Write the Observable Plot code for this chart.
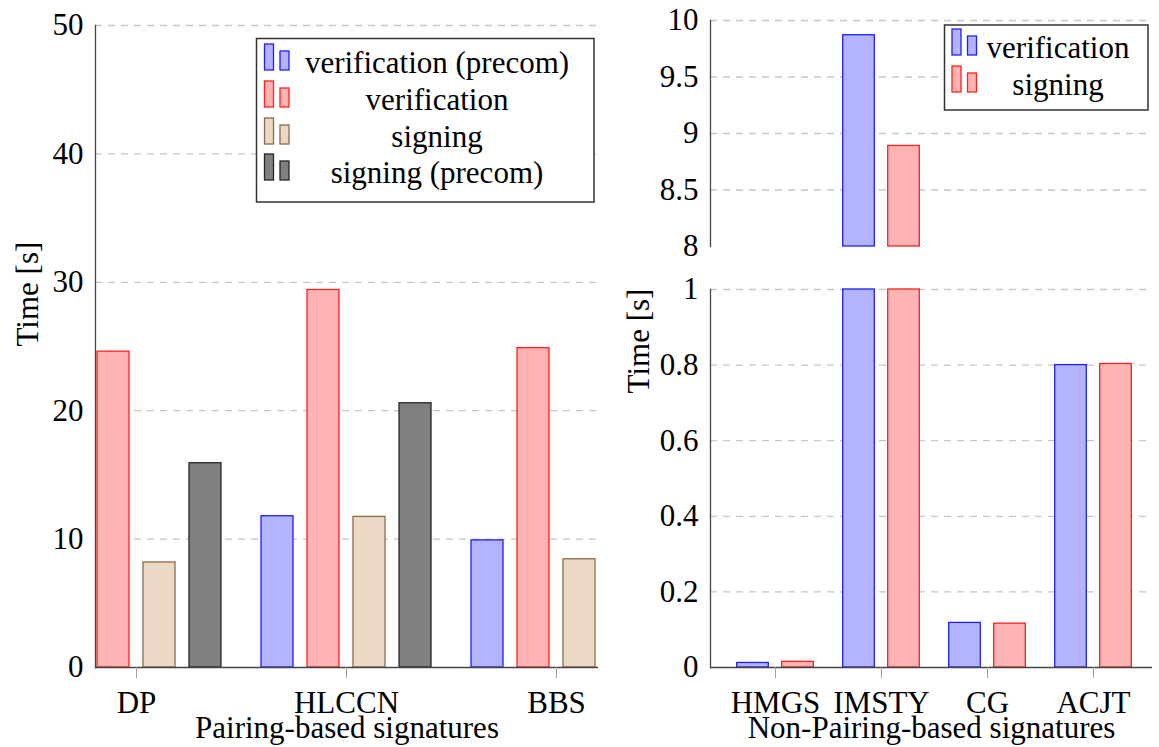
<!DOCTYPE html>
<html>
<head>
<meta charset="utf-8">
<script src="https://cdn.jsdelivr.net/npm/d3@7"></script>
<script src="https://cdn.jsdelivr.net/npm/@observablehq/plot@0.6"></script>
<style>
  html, body { margin: 0; padding: 0; background: #fff; }
  #wrap { position: relative; width: 1159px; height: 747px; overflow: hidden; font-family: 'Liberation Serif', 'DejaVu Serif', 'Noto Serif', 'Times New Roman', Times, serif; }
  #wrap > svg, #wrap > figure { position: absolute; margin: 0; }
  #wrap svg, #wrap svg text { font-family: 'Liberation Serif', 'DejaVu Serif', 'Noto Serif', 'Times New Roman', Times, serif !important; }
</style>
</head>
<body>
<div id="wrap"></div>
<script>
// ---------------- data ----------------
const pairingSchemes = ["DP", "HLCCN", "BBS"];
const pairingSeries = ["verification (precom)", "verification", "signing", "signing (precom)"];
const pairVerifPrecom = [null, 11.78, 9.9];
const pairVerif = [24.6, 29.4, 24.87];
const pairSign = [8.18, 11.73, 8.43];
const pairSignPrecom = [15.91, 20.58, null];

const nonPairingSchemes = ["HMGS", "IMSTY", "CG", "ACJT"];
const nonPairingSeries = ["verification", "signing"];
const npVerif = [0.012, 9.87, 0.118, 0.8];
const npSign = [0.015, 8.89, 0.116, 0.803];

const leftTicks = [0, 10, 20, 30, 40, 50];
const topTicks = [8, 8.5, 9, 9.5, 10];
const bottomTicks = [0, 0.2, 0.4, 0.6, 0.8, 1];

const leftXLabel = "Pairing-based signatures";
const rightXLabel = "Non-Pairing-based signatures";
const yLabel = "Time [s]";

// ---------------- styles ----------------
const FS = 31;
const seriesStyle = {
  "verification (precom)": {fill: "#b3b3ff", stroke: "#1f1fff"},
  "verification": {fill: "#ffb3b3", stroke: "#ff2020"},
  "signing": {fill: "#ebd9c5", stroke: "#8c6a47"},
  "signing (precom)": {fill: "#808080", stroke: "#262626"}
};
const npStyle = {
  "verification": {fill: "#b3b3ff", stroke: "#1f1fff"},
  "signing": {fill: "#ffb3b3", stroke: "#ff2020"}
};
const gridStyle = {stroke: "#c6c6c6", strokeOpacity: 1, strokeWidth: 1.3, strokeDasharray: "7,6"};
const axisLine = {stroke: "#444", strokeWidth: 1.3};
const plotStyle = {background: "transparent", overflow: "visible", fontSize: FS + "px", color: "black"};

const wrap = document.getElementById("wrap");
function place(el, left, top) { el.style.left = left + "px"; el.style.top = top + "px"; wrap.appendChild(el); }

// ---------------- left panel ----------------
const pairValues = [pairVerifPrecom, pairVerif, pairSign, pairSignPrecom];
const leftRows = pairingSeries.flatMap((s, j) =>
  pairingSchemes.map((c, i) => ({scheme: c, series: s, value: pairValues[j][i]})));
const leftOffsets = [-69, -23, 23, 69];

const left = Plot.plot({
  width: 610, height: 747,
  marginLeft: 95, marginRight: 12, marginTop: 25, marginBottom: 80,
  style: plotStyle,
  x: {domain: pairingSchemes, range: [31, 661], padding: 0, label: null},
  y: {domain: [0, 50], label: null},
  marks: [
    Plot.gridY(leftTicks.filter(d => d > 0), gridStyle),
    ...pairingSeries.map((s, j) => Plot.barY(
      leftRows.filter(r => r.series === s && r.value != null),
      {x: "scheme", y: "value", fill: seriesStyle[s].fill, stroke: seriesStyle[s].stroke,
       strokeWidth: 1.3, insetLeft: 89, insetRight: 89, dx: leftOffsets[j]})),
    Plot.ruleY([0], axisLine),
    Plot.frame({anchor: "left", ...axisLine}),
    Plot.axisY(leftTicks, {tickSize: 0, tickPadding: 12, fill: "black", label: null}),
    Plot.axisX({tickSize: 11, tickPadding: 12, stroke: "#a0a0a0", fill: "black", label: null}),
    Plot.text([leftXLabel], {text: d => d, frameAnchor: "bottom", dy: 70, fontSize: FS, fill: "black"}),
    Plot.text([yLabel], {text: d => d, frameAnchor: "left", dx: -67, rotate: -90, fontSize: FS, fill: "black"})
  ]
});
place(left, 0, 0);

// ---------------- right panel ----------------
const npValues = [npVerif, npSign];
const npRows = nonPairingSeries.flatMap((s, j) =>
  nonPairingSchemes.map((c, i) => ({scheme: c, series: s, value: npValues[j][i]})));
const npOffsets = [-22.5, 22.5];
const npXRange = [121.3, 546.9];

function npBars() {
  return nonPairingSeries.map((s, j) => Plot.barY(
    npRows.filter(r => r.series === s),
    {x: "scheme", y: "value", fill: npStyle[s].fill, stroke: npStyle[s].stroke,
     strokeWidth: 1.3, insetLeft: 37.2, insetRight: 37.2, dx: npOffsets[j]}));
}

const rightTop = Plot.plot({
  width: 559, height: 260,
  marginLeft: 110, marginRight: 7, marginTop: 20, marginBottom: 14,
  style: plotStyle,
  x: {domain: nonPairingSchemes, range: npXRange, padding: 0, axis: null, label: null},
  y: {domain: [8, 10], clamp: true, label: null},
  marks: [
    Plot.gridY(topTicks.filter(d => d > 8), gridStyle),
    ...npBars(),
    Plot.frame({anchor: "left", ...axisLine}),
    Plot.axisY(topTicks, {tickSize: 0, tickPadding: 12, fill: "black", label: null, tickFormat: d => String(d)})
  ]
});
place(rightTop, 600, 0);

const rightBottom = Plot.plot({
  width: 559, height: 487,
  marginLeft: 110, marginRight: 7, marginTop: 29, marginBottom: 80,
  style: plotStyle,
  x: {domain: nonPairingSchemes, range: npXRange, padding: 0, label: null},
  y: {domain: [0, 1], clamp: true, label: null},
  marks: [
    Plot.gridY(bottomTicks.filter(d => d > 0), gridStyle),
    ...npBars(),
    Plot.ruleY([0], axisLine),
    Plot.frame({anchor: "left", ...axisLine}),
    Plot.axisY(bottomTicks, {tickSize: 0, tickPadding: 12, fill: "black", label: null, tickFormat: d => String(d)}),
    Plot.axisX({tickSize: 11, tickPadding: 12, stroke: "#a0a0a0", fill: "black", label: null}),
    Plot.text([rightXLabel], {text: d => d, frameAnchor: "bottom", dy: 70, fontSize: FS, fill: "black"})
  ]
});
place(rightBottom, 600, 260);

// ---------------- legends & right y label (overlay) ----------------
const overlay = d3.create("svg")
  .attr("width", 1159).attr("height", 747)
  .style("pointer-events", "none")
  .style("font-size", FS + "px");

function legend(g, box, entries, styles, iconX, textX, baselines) {
  g.append("rect").attr("x", box.x).attr("y", box.y).attr("width", box.w).attr("height", box.h)
    .attr("fill", "white").attr("stroke", "#333").attr("stroke-width", 1.5);
  entries.forEach((name, i) => {
    const b = baselines[i];
    const st = styles[name];
    g.append("rect").attr("x", iconX).attr("y", b - 29).attr("width", 9).attr("height", 26)
      .attr("fill", st.fill).attr("stroke", st.stroke).attr("stroke-width", 1.3);
    g.append("rect").attr("x", iconX + 15.5).attr("y", b - 22).attr("width", 9).attr("height", 19)
      .attr("fill", st.fill).attr("stroke", st.stroke).attr("stroke-width", 1.3);
    g.append("text").attr("x", textX).attr("y", b).attr("text-anchor", "middle").attr("fill", "black").text(name);
  });
}

legend(overlay.append("g"), {x: 256.5, y: 38.5, w: 337.5, h: 163.5}, pairingSeries, seriesStyle, 264.5, 437, [73, 110, 147, 183]);
legend(overlay.append("g"), {x: 944.5, y: 25, w: 203.5, h: 85}, nonPairingSeries, npStyle, 952, 1058, [58, 95]);

overlay.append("text")
  .attr("transform", "translate(639,341) rotate(-90)")
  .attr("text-anchor", "middle").attr("dy", "0.32em").attr("fill", "black")
  .text(yLabel);

place(overlay.node(), 0, 0);
</script>
</body>
</html>
